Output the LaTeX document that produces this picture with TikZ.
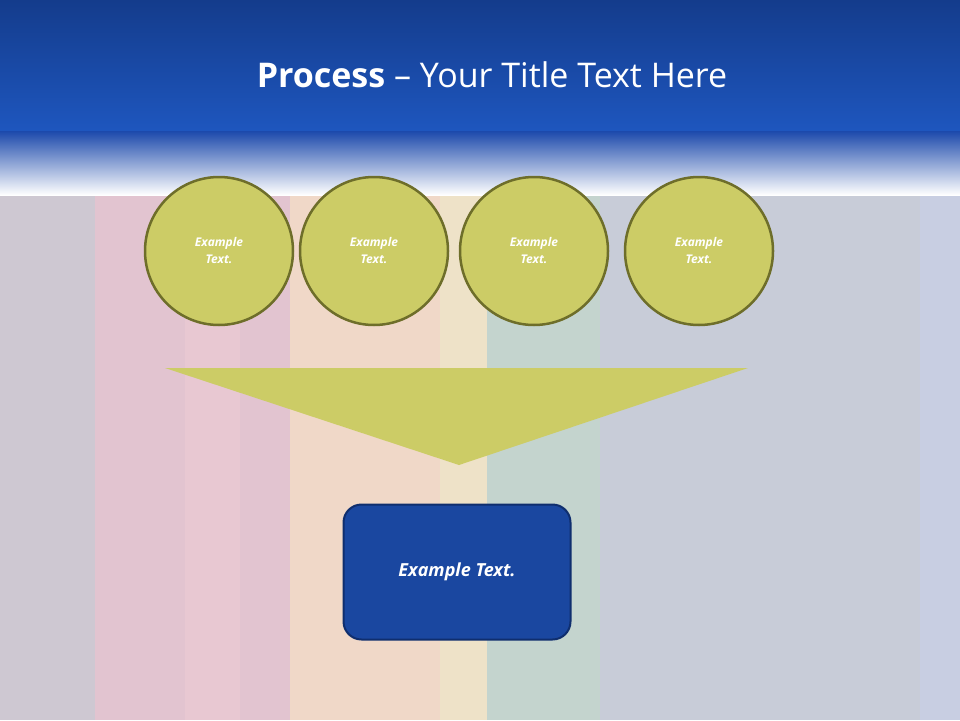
\documentclass[tikz,border=0pt]{standalone}
\usepackage{fontspec}
\setmainfont{Open Sans}
\usetikzlibrary{fadings}
\definecolor{olivef}{RGB}{204,204,102}
\definecolor{oliveb}{RGB}{110,110,42}
\definecolor{boxf}{RGB}{26,71,160}
\definecolor{boxb}{RGB}{15,46,110}
\definecolor{topb}{RGB}{24,70,170}
\tikzset{circ/.style={circle,minimum size=148pt,inner sep=0pt,fill=olivef,draw=oliveb,line width=2.5pt,text=white,font=\bfseries\itshape\fontsize{12}{17}\selectfont,align=center}}
\begin{document}
\begin{tikzpicture}[x=1pt,y=-1pt]
\useasboundingbox (0,0) rectangle (960,720);
\fill[fill={rgb,255:red,206;green,200;blue,210}] (0,0) rectangle (960,720);
\fill[fill={rgb,255:red,226;green,196;blue,208}] (95,130) rectangle (290,720);
\fill[fill={rgb,255:red,232;green,200;blue,210}] (185,130) rectangle (240,720);
\fill[fill={rgb,255:red,240;green,216;blue,200}] (290,130) rectangle (440,720);
\fill[fill={rgb,255:red,238;green,226;blue,200}] (440,130) rectangle (487,720);
\fill[fill={rgb,255:red,196;green,212;blue,206}] (487,130) rectangle (600,720);
\fill[fill={rgb,255:red,200;green,204;blue,216}] (600,130) rectangle (920,720);
\fill[fill={rgb,255:red,200;green,206;blue,226}] (920,130) rectangle (960,720);
\shade[top color=topb,bottom color=topb!0] (0,130) rectangle (960,195);
\shade[top color={rgb,255:red,20;green,60;blue,140},bottom color={rgb,255:red,30;green,86;blue,190}] (0,0) rectangle (960,130);
\node[text=white,font=\fontsize{34}{40}\selectfont] (title) at (492,75) {\textbf{Process} – Your Title Text Here};
\node[circ] (c1) at (219,251) {Example\\Text.};
\node[circ] (c2) at (374,251) {Example\\Text.};
\node[circ] (c3) at (534,251) {Example\\Text.};
\node[circ] (c4) at (699,251) {Example\\Text.};
\fill[olivef] (165,368) -- (748,368) -- (459,465) -- cycle;
\node[draw=boxb,fill=boxf,line width=2pt,rounded corners=18pt,minimum width=227pt,minimum height=135pt,text=white,font=\bfseries\itshape\fontsize{18}{22}\selectfont] (box) at (457,572) {Example Text.};
\end{tikzpicture}
\end{document}
